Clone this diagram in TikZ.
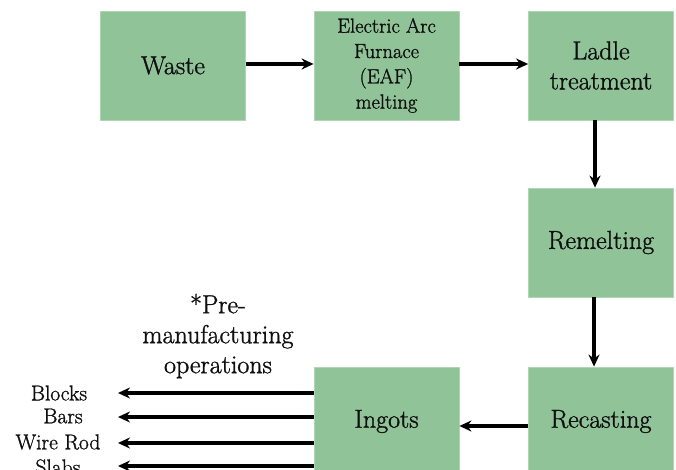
\documentclass[tikz,border=0pt]{standalone}
\usepackage{fontspec}
\setmainfont{Latin Modern Roman}[FakeBold=1.2]
\usetikzlibrary{arrows.meta}
\definecolor{boxgreen}{RGB}{144,196,152}
\definecolor{boxedge}{RGB}{175,215,180}
\definecolor{txt}{RGB}{15,15,15}
\begin{document}
\begin{tikzpicture}[x=1pt,y=-1pt,
  box/.style={fill=boxgreen,draw=boxedge,line width=0.8pt,minimum width=145pt,minimum height=109pt,inner sep=0pt,text=txt,align=center,font=\fontsize{26}{30}\selectfont},
  arr/.style={-{Stealth[length=12pt,width=11pt]},line width=3.2pt,black},
  lbl/.style={text=txt,font=\fontsize{21.5}{24}\selectfont,inner sep=0pt}]
\clip (0,0) rectangle (676,470);
\useasboundingbox (0,0) rectangle (676,470);
\node[box] (waste) at (173,65.5) {Waste};
\node[box,font=\fontsize{20.5}{25.3}\selectfont] (eaf) at (386.5,65.5) {Electric Arc\\Furnace\\(EAF)\\melting};
\node[box] (ladle) at (601,65.5) {Ladle\\treatment};
\node[box] (remelt) at (601,242.5) {Remelting};
\node[box] (recast) at (601,421.5) {Recasting};
\node[box] (ingots) at (386.5,421.5) {Ingots};
\draw[arr] (waste.east |- 0,64) -- (eaf.west |- 0,64);
\draw[arr] (eaf.east |- 0,64) -- (ladle.west |- 0,64);
\draw[arr] (ladle.south -| 595,0) -- (remelt.north -| 595,0);
\draw[arr] (remelt.south -| 594,0) -- (recast.north -| 594,0);
\draw[arr] (recast.west |- 0,426) -- (ingots.east |- 0,426);
\node[text=txt,align=center,font=\fontsize{26}{30}\selectfont,inner sep=0pt] (premanu) at (218,336) {*Pre-\\manufacturing\\operations};
\node[lbl] (blocks) at (59,393) {Blocks};
\node[lbl] (bars) at (63,416) {Bars};
\node[lbl] (wire) at (58,442) {Wire Rod};
\node[lbl] (slabs) at (58,467) {Slabs};
\coordinate (tA) at (118,393);
\coordinate (tB) at (118,417);
\coordinate (tC) at (118,443);
\coordinate (tD) at (118,466);
\draw[arr] (ingots.west |- tA) -- (tA);
\draw[arr] (ingots.west |- tB) -- (tB);
\draw[arr] (ingots.west |- tC) -- (tC);
\draw[arr] (ingots.west |- tD) -- (tD);
\end{tikzpicture}
\end{document}
